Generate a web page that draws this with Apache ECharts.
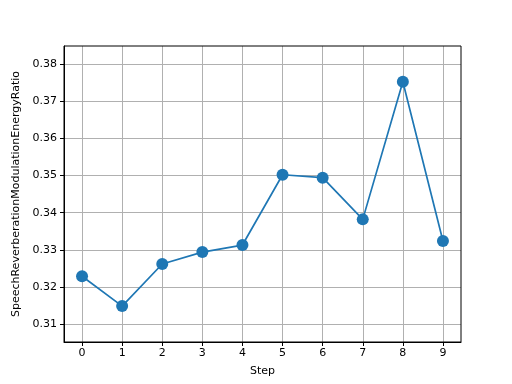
<!DOCTYPE html>
<html><head><meta charset="utf-8">
<script src="https://cdn.jsdelivr.net/npm/echarts@6/dist/echarts.min.js"></script>
<style>html,body{margin:0;padding:0;background:#fff}#c{width:512px;height:384px}</style>
</head><body><div id="c"></div>
<script>
const steps = [0,1,2,3,4,5,6,7,8,9];
const values = [0.3229,0.3149,0.3262,0.3294,0.3313,0.3502,0.3494,0.3382,0.3752,0.3324];
const yTicks = [0.31,0.32,0.33,0.34,0.35,0.36,0.37,0.38];
const xTicks = [0,1,2,3,4,5,6,7,8,9];
const chart = echarts.init(document.getElementById('c'), null, {renderer:'canvas'});
const font = 'DejaVu Sans';
chart.setOption({
  animation:false,
  grid:{left:64,right:51,top:46,bottom:42,containLabel:false},
  xAxis:{type:'value',min:-0.45,max:9.45,name:'Step',nameLocation:'middle',nameGap:24,
    nameTextStyle:{color:'#000',fontFamily:font,fontSize:11},
    axisLine:{onZero:false,lineStyle:{color:'#000',width:1}},
    axisTick:{show:true,length:4,lineStyle:{color:'#000'},customValues:xTicks},
    axisLabel:{color:'#000',fontFamily:font,fontSize:11,margin:6,customValues:xTicks,formatter:v=>String(v)},
    splitLine:{show:true,lineStyle:{color:'#b0b0b0',width:1}}},
  yAxis:{type:'value',min:0.30524,max:0.3848,name:'SpeechReverberationModulationEnergyRatio',nameLocation:'middle',nameGap:33,
    nameTextStyle:{color:'#000',fontFamily:font,fontSize:11},
    axisLine:{show:true,onZero:false,lineStyle:{color:'#000',width:1}},
    axisTick:{show:true,length:4,lineStyle:{color:'#000'},customValues:yTicks},
    axisLabel:{color:'#000',fontFamily:font,fontSize:11,margin:7,customValues:yTicks,formatter:v=>v.toFixed(2)},
    splitLine:{show:true,lineStyle:{color:'#b0b0b0',width:1}}},
  series:[{type:'line',data:steps.map((s,i)=>[s,values[i]]),symbol:'circle',symbolSize:12,
    itemStyle:{color:'#1f77b4'},lineStyle:{color:'#1f77b4',width:1.7}}]
});
chart.setOption({graphic:[{type:'rect',shape:{x:64,y:46,width:397,height:296},style:{fill:'none',stroke:'#000',lineWidth:1},z:100}]});
</script></body></html>
